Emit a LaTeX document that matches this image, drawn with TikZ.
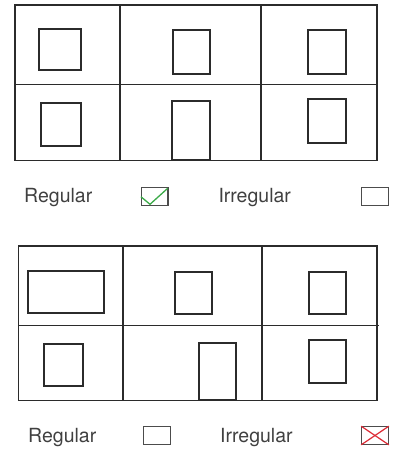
\documentclass[tikz,border=0pt]{standalone}
\usepackage{fontspec}
\setmainfont{TeX Gyre Heros}
\usepackage{tikz}
\usetikzlibrary{positioning}
\definecolor{wallgray}{HTML}{2B2B2B}
\definecolor{tickgreen}{HTML}{3BAA48}
\definecolor{crossred}{HTML}{DD2A35}

\begin{document}
\begin{tikzpicture}[x=1pt, y=-1pt,
    wall/.style={wallgray, line width=1.6pt},
    pane/.style={wallgray, line width=2.2pt},
    tickbox/.style={draw=black!70, line width=1.1pt, minimum width=26.5pt, minimum height=17.5pt, inner sep=0pt},
    label/.style={anchor=base west, text=black!75, font=\fontsize{19.5}{22}\selectfont, inner sep=0pt}]
    \useasboundingbox (0,0) rectangle (392,450);
    % first facade
    \draw[wall] (14.7,4.7) rectangle (376.7,160.3);
    \draw[wall] (14.7,84.3) -- (378,84.3);
    \foreach \x in {120,260.7}
        \draw[wall] (\x,4.7) -- (\x,160.3);
    \draw[pane] (39,29.3) rectangle (80.7,70);
    \draw[pane] (172.7,30.3) rectangle (210.3,73.7);
    \draw[pane] (308,30.3) rectangle (346,73.7);
    \draw[pane] (40.7,102.7) rectangle (80.7,146.3);
    \draw[pane] (172,100.7) rectangle (210,159.7);
    \draw[pane] (308,99) rectangle (346,142.7);
    \node[label] (reg1) at (24,202.5) {Regular};
    \node[tickbox] (box1) at (154.7,196.3) {};
    \node[label] (irr1) at (218.3,202.5) {Irregular};
    \node[tickbox] (box2) at (375,196.3) {};
    \draw[tickgreen, line width=1.3pt] (box1.west |- 0,196.7) -- (150,204.3) -- (167.7,188.3);
    % second facade
    \draw[wall] (18.3,245.7) rectangle (376.7,400.3);
    \draw[wall] (18.3,325.3) -- (379,325.3);
    \foreach \x in {122.7,262}
        \draw[wall] (\x,245.7) -- (\x,400.3);
    \draw[pane] (28,270.7) rectangle (103.7,313.3);
    \draw[pane] (174.7,271.7) rectangle (212.3,314.3);
    \draw[pane] (308.7,271.7) rectangle (346.3,314.3);
    \draw[pane] (44,343.7) rectangle (83.3,386);
    \draw[pane] (198.7,342.7) rectangle (236.3,400.3);
    \draw[pane] (308.7,339.7) rectangle (346.3,382.7);
    \node[label] (reg2) at (28,442) {Regular};
    \node[tickbox] (box3) at (157,435.5) {};
    \node[label] (irr2) at (220,442) {Irregular};
    \node[tickbox] (box4) at (375,435.5) {};
    \draw[crossred, line width=1.2pt] (box4.north west) -- (box4.south east);
    \draw[crossred, line width=1.2pt] (box4.south west) -- (box4.north east);
\end{tikzpicture}
\end{document}
